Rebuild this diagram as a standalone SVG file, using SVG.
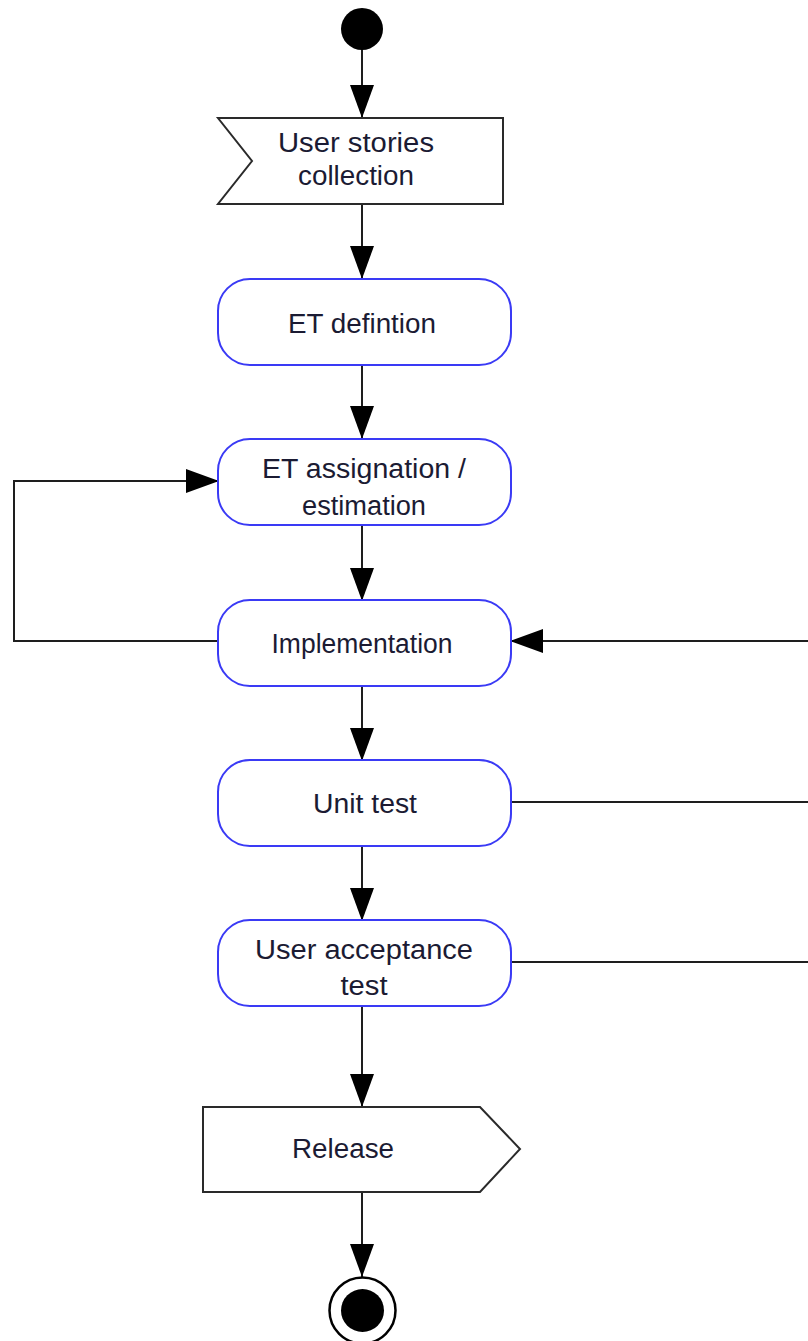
<svg xmlns="http://www.w3.org/2000/svg" width="808" height="1341" viewBox="0 0 808 1341">
  <style>
    .bg { fill: #ffffff; }
    .act { fill: #ffffff; stroke: #3a3af5; stroke-width: 2; }
    .sig { fill: #ffffff; stroke: #2a2a2a; stroke-width: 2; stroke-linejoin: miter; }
    .edge { fill: none; stroke: #1e1e1e; stroke-width: 2; }
    .lbl { font-family: "Liberation Sans", Arial, sans-serif; font-size: 27px; fill: #1b1b33; text-anchor: middle; }
  </style>
  <defs>
    <marker id="arrow" markerUnits="userSpaceOnUse" markerWidth="34" markerHeight="26" viewBox="0 0 34 26" refX="33" refY="13" orient="auto">
      <path d="M0,1 L33,13 L0,25 Z" fill="#000000"/>
    </marker>
  </defs>

  <rect class="bg" x="0" y="0" width="808" height="1341"/>

  <!-- connectors -->
  <g id="connectors">
    <line class="edge" x1="362" y1="50" x2="362" y2="118" marker-end="url(#arrow)"/>
    <line class="edge" x1="362" y1="204" x2="362" y2="279" marker-end="url(#arrow)"/>
    <line class="edge" x1="362" y1="365" x2="362" y2="439" marker-end="url(#arrow)"/>
    <line class="edge" x1="362" y1="525" x2="362" y2="601" marker-end="url(#arrow)"/>
    <line class="edge" x1="362" y1="686" x2="362" y2="761" marker-end="url(#arrow)"/>
    <line class="edge" x1="362" y1="846" x2="362" y2="921" marker-end="url(#arrow)"/>
    <line class="edge" x1="362" y1="1006" x2="362" y2="1107" marker-end="url(#arrow)"/>
    <line class="edge" x1="362" y1="1192" x2="362" y2="1277" marker-end="url(#arrow)"/>
    <polyline class="edge" points="218,641 14,641 14,481 219,481" marker-end="url(#arrow)"/>
    <line class="edge" x1="808" y1="641" x2="510" y2="641" marker-end="url(#arrow)"/>
    <line class="edge" x1="511" y1="802" x2="808" y2="802"/>
    <line class="edge" x1="511" y1="962" x2="808" y2="962"/>
  </g>

  <!-- initial node -->
  <g id="start">
    <circle cx="362" cy="29" r="21" fill="#000000"/>
  </g>

  <!-- accept event: user stories -->
  <g id="user-stories">
    <polygon class="sig" points="218,118 503,118 503,204 218,204 252,161"/>
    <text class="lbl" x="356" y="152" textLength="156" lengthAdjust="spacingAndGlyphs">User stories</text>
    <text class="lbl" x="356" y="185" textLength="116" lengthAdjust="spacingAndGlyphs">collection</text>
  </g>

  <g id="et-definition">
    <rect class="act" x="218" y="279" width="293" height="86" rx="32" ry="32"/>
    <text class="lbl" x="362" y="333" textLength="148" lengthAdjust="spacingAndGlyphs">ET defintion</text>
  </g>

  <g id="et-assignation">
    <rect class="act" x="218" y="439" width="293" height="86" rx="32" ry="32"/>
    <text class="lbl" x="364" y="478" textLength="204" lengthAdjust="spacingAndGlyphs">ET assignation /</text>
    <text class="lbl" x="364" y="515" textLength="124" lengthAdjust="spacingAndGlyphs">estimation</text>
  </g>

  <g id="implementation">
    <rect class="act" x="218" y="600" width="293" height="86" rx="32" ry="32"/>
    <text class="lbl" x="362" y="653" textLength="181" lengthAdjust="spacingAndGlyphs">Implementation</text>
  </g>

  <g id="unit-test">
    <rect class="act" x="218" y="760" width="293" height="86" rx="32" ry="32"/>
    <text class="lbl" x="365" y="813" textLength="104" lengthAdjust="spacingAndGlyphs">Unit test</text>
  </g>

  <g id="user-acceptance-test">
    <rect class="act" x="218" y="920" width="293" height="86" rx="32" ry="32"/>
    <text class="lbl" x="364" y="959" textLength="218" lengthAdjust="spacingAndGlyphs">User acceptance</text>
    <text class="lbl" x="364" y="995" textLength="47" lengthAdjust="spacingAndGlyphs">test</text>
  </g>

  <!-- send signal: release -->
  <g id="release">
    <polygon class="sig" points="203,1107 480,1107 520,1149 480,1192 203,1192"/>
    <text class="lbl" x="343" y="1158" textLength="102" lengthAdjust="spacingAndGlyphs">Release</text>
  </g>

  <!-- final node -->
  <g id="end">
    <circle cx="362.5" cy="1310.5" r="33" fill="#ffffff" stroke="#000000" stroke-width="2.5"/>
    <circle cx="362.5" cy="1310.5" r="21.5" fill="#000000"/>
  </g>
</svg>
